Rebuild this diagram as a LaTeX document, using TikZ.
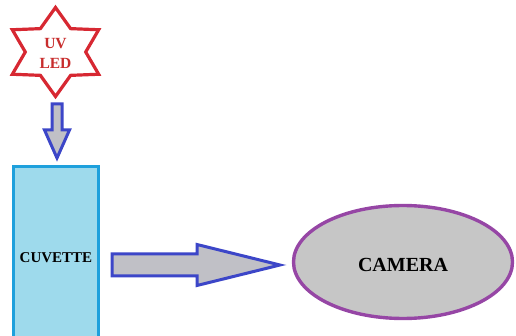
\documentclass[tikz,border=0pt]{standalone}
\usepackage{fontspec}
\setmainfont{Liberation Serif}
\usetikzlibrary{shapes.geometric}
\definecolor{ledred}{RGB}{215,40,50}
\definecolor{ledtext}{RGB}{200,45,45}
\definecolor{cuvfill}{RGB}{158,218,236}
\definecolor{cuvedge}{RGB}{30,160,220}
\definecolor{arrowedge}{RGB}{60,70,200}
\definecolor{arrowfill}{RGB}{192,192,198}
\definecolor{camedge}{RGB}{150,70,165}
\definecolor{camfill}{RGB}{198,198,198}
\tikzset{
  ledstar/.style={star, star points=6, star point ratio=1.65, draw=ledred,
    line width=3.2pt, fill=white, inner sep=0pt, minimum size=89pt},
  fatarrow/.style={draw=arrowedge, fill=arrowfill, line width=3pt, line join=miter},
  label/.style={font=\bfseries, align=center, inner sep=0pt},
}
\begin{document}
\begin{tikzpicture}[x=1pt,y=-1pt]
  \useasboundingbox (0,0) rectangle (516,336);
  \clip (0,0) rectangle (516,336);
  % light source
  \node[ledstar, xscale=1.12, transform shape] (led) at (55.5,52) {};
  \node[label, text=ledtext, font=\bfseries\fontsize{15.5}{20}\selectfont] (ledtxt) at (55.5,53) {UV\\LED};
  % sample holder
  \node[draw=cuvedge, fill=cuvfill, line width=3pt, minimum width=85pt,
        minimum height=172pt, inner sep=0pt] (cuv) at (55.5,253) {};
  \node[label, font=\bfseries\fontsize{15}{18}\selectfont] (cuvtxt) at (56,258) {CUVETTE};
  % detector
  \node[ellipse, draw=camedge, fill=camfill, line width=3.4pt,
        minimum width=219pt, minimum height=113pt, inner sep=0pt] (cam) at (403,262) {};
  \node[label, font=\bfseries\fontsize{20}{24}\selectfont] (camtxt) at (403,265) {CAMERA};
  % light paths: block arrows from source to cuvette and cuvette to camera
  \coordinate (d0) at (57,104);
  \coordinate (r0) at (112,265);
  \draw[fatarrow] (d0) ++(-5,0) -- ++(0,26) -- ++(-7.5,0) -- ++(12.5,28)
    -- ++(12.5,-28) -- ++(-7.5,0) -- ++(0,-26) -- cycle;
  \draw[fatarrow] (r0) ++(0,-11) -- ++(85,0) -- ++(0,-9.5) -- ++(83,20.5)
    -- ++(-83,20.5) -- ++(0,-9.5) -- ++(-85,0) -- cycle;
\end{tikzpicture}
\end{document}
